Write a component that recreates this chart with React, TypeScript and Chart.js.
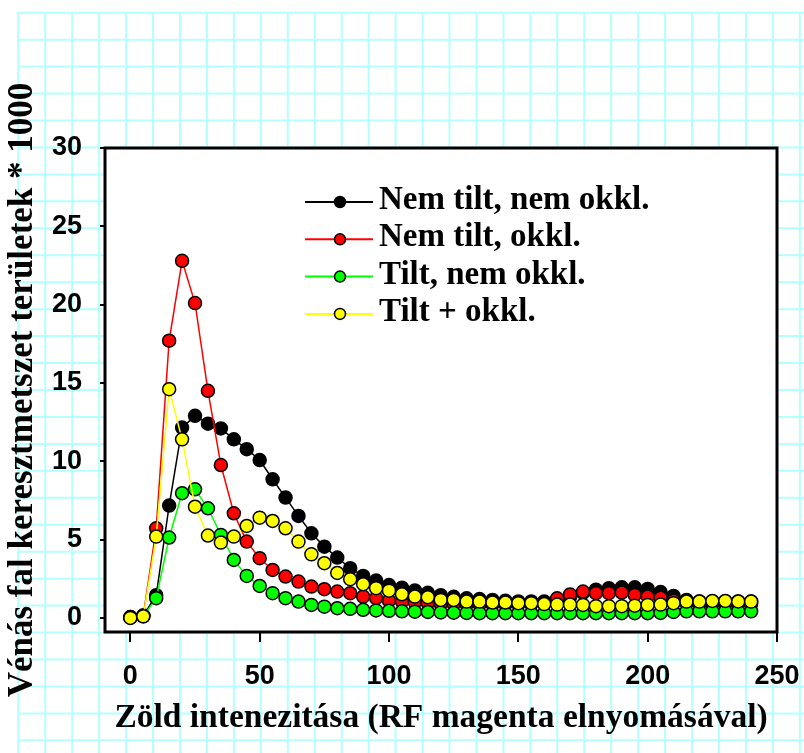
import React, { useEffect, useRef } from 'react';
import { Chart, registerables } from 'chart.js';

Chart.register(...registerables);

const xValues = [0, 5, 10, 15, 20, 25, 30, 35, 40, 45, 50, 55, 60, 65, 70, 75, 80, 85, 90, 95, 100, 105, 110, 115, 120, 125, 130, 135, 140, 145, 150, 155, 160, 165, 170, 175, 180, 185, 190, 195, 200, 205, 210, 215, 220, 225, 230, 235, 240];

const nemTiltNemOkkl = [0.05, 0.15, 1.45, 7.17, 12.15, 12.9, 12.4, 12.1, 11.4, 10.77, 10.08, 8.85, 7.68, 6.51, 5.4, 4.55, 3.85, 3.17, 2.68, 2.38, 2.1, 1.93, 1.75, 1.6, 1.45, 1.35, 1.25, 1.2, 1.15, 1.1, 1.05, 1.05, 1.05, 1.15, 1.35, 1.6, 1.8, 1.9, 1.95, 1.95, 1.85, 1.65, 1.4, 1.15, 1.05, 1.05, 1.05, 1.05, 1.05];

const nemTiltOkkl = [0.05, 0.15, 5.72, 17.7, 22.8, 20.1, 14.5, 9.76, 6.68, 4.87, 3.81, 3.06, 2.64, 2.32, 2.0, 1.83, 1.68, 1.58, 1.36, 1.26, 1.1, 1.04, 0.98, 0.95, 0.9, 0.88, 0.85, 0.85, 0.85, 0.85, 0.85, 0.88, 0.95, 1.25, 1.5, 1.68, 1.58, 1.58, 1.62, 1.47, 1.36, 1.28, 1.1, 0.95, 0.9, 0.9, 0.9, 0.9, 0.9];

const tiltNemOkkl = [0.02, 0.1, 1.26, 5.13, 7.96, 8.21, 7.0, 5.3, 3.7, 2.68, 2.04, 1.58, 1.26, 1.04, 0.83, 0.72, 0.62, 0.58, 0.52, 0.48, 0.45, 0.42, 0.4, 0.38, 0.35, 0.33, 0.32, 0.3, 0.3, 0.3, 0.3, 0.3, 0.3, 0.3, 0.3, 0.3, 0.3, 0.3, 0.3, 0.3, 0.3, 0.32, 0.38, 0.42, 0.42, 0.42, 0.42, 0.42, 0.42];

const tiltOkkl = [0.0, 0.1, 5.19, 14.6, 11.4, 7.1, 5.26, 4.81, 5.19, 5.87, 6.4, 6.19, 5.72, 4.87, 4.06, 3.49, 2.87, 2.47, 2.15, 1.9, 1.74, 1.51, 1.36, 1.32, 1.15, 1.15, 1.04, 1.04, 0.98, 0.98, 0.94, 0.94, 0.88, 0.85, 0.85, 0.83, 0.75, 0.75, 0.75, 0.78, 0.83, 0.85, 0.94, 1.04, 1.04, 1.08, 1.08, 1.05, 1.04];

const seriesLabels = ['Nem tilt, nem okkl.', 'Nem tilt, okkl.', 'Tilt, nem okkl.', 'Tilt + okkl.'];
const seriesColors = ['#000000', '#ff0000', '#00ff00', '#ffff00'];
const seriesValues = [nemTiltNemOkkl, nemTiltOkkl, tiltNemOkkl, tiltOkkl];

const xTickValues = [0, 50, 100, 150, 200, 250];
const yTickValues = [0, 5, 10, 15, 20, 25, 30];

const xTitle = 'Zöld intenezitása (RF magenta elnyomásával)';
const yTitle = 'Vénás fal keresztmetszet területek * 1000';

const paperPlugin = {
  id: 'paper',
  beforeDraw(chart: any) {
    const { ctx, width, height, chartArea } = chart;
    ctx.save();
    ctx.fillStyle = '#ffffff';
    ctx.fillRect(0, 0, width, height);
    ctx.strokeStyle = '#b4ffff';
    ctx.lineWidth = 2;
    for (let x = 18.3; x < width; x += 26.95) {
      ctx.beginPath();
      ctx.moveTo(x, 12);
      ctx.lineTo(x, height);
      ctx.stroke();
    }
    for (let y = 12.7; y < height; y += 26.95) {
      ctx.beginPath();
      ctx.moveTo(18, y);
      ctx.lineTo(width, y);
      ctx.stroke();
    }
    ctx.fillStyle = '#ffffff';
    ctx.fillRect(chartArea.left, chartArea.top, chartArea.right - chartArea.left, chartArea.bottom - chartArea.top);
    ctx.restore();
  },
  beforeDatasetsDraw(chart: any) {
    const { ctx, chartArea } = chart;
    ctx.save();
    ctx.strokeStyle = '#000000';
    ctx.lineWidth = 3;
    ctx.strokeRect(chartArea.left, chartArea.top, chartArea.right - chartArea.left, chartArea.bottom - chartArea.top);
    ctx.restore();
  },
};

const legendPlugin = {
  id: 'insideLegend',
  afterDraw(chart: any) {
    const { ctx, chartArea } = chart;
    const x0 = chartArea.left + 200;
    const y0 = chartArea.top + 54;
    const rowH = 37.3;
    ctx.save();
    chart.data.datasets.forEach((ds: any, i: number) => {
      const y = y0 + i * rowH;
      ctx.strokeStyle = ds.borderColor;
      ctx.lineWidth = 2;
      ctx.beginPath();
      ctx.moveTo(x0, y);
      ctx.lineTo(x0 + 68, y);
      ctx.stroke();
      ctx.beginPath();
      ctx.arc(x0 + 35, y, 5.5, 0, Math.PI * 2);
      ctx.fillStyle = ds.backgroundColor;
      ctx.fill();
      ctx.strokeStyle = '#000000';
      ctx.lineWidth = 1.5;
      ctx.stroke();
      ctx.fillStyle = '#000000';
      ctx.font = 'bold 33px "Liberation Serif"';
      ctx.textAlign = 'left';
      ctx.textBaseline = 'alphabetic';
      ctx.fillText(ds.label, x0 + 74, y + 7);
    });
    ctx.restore();
  },
};

export default function App() {
  const canvasRef = useRef<HTMLCanvasElement | null>(null);

  useEffect(() => {
    const canvas = canvasRef.current;
    if (!canvas) return;
    const datasets = seriesValues.map((vals, i) => ({
      label: seriesLabels[i],
      data: xValues.map((x, j) => ({ x, y: vals[j] })),
      borderColor: seriesColors[i],
      backgroundColor: seriesColors[i],
      pointBackgroundColor: seriesColors[i],
      pointBorderColor: '#000000',
      pointBorderWidth: 1.5,
      pointRadius: 6.5,
      borderWidth: 1.5,
      tension: 0,
      order: 3 - i,
    }));
    const chart = new Chart(canvas, {
      type: 'line',
      data: { datasets },
      plugins: [paperPlugin, legendPlugin],
      options: {
        responsive: false,
        animation: false,
        devicePixelRatio: 1,
        layout: { padding: { left: 0, top: 148, right: 27, bottom: 0 } },
        plugins: { legend: { display: false }, tooltip: { enabled: false } },
        scales: {
          x: {
            type: 'linear',
            min: -9.8,
            max: 250,
            afterBuildTicks: (scale: any) => {
              scale.ticks = xTickValues.map((v) => ({ value: v }));
            },
            afterFit: (scale: any) => {
              scale.height = 121;
              scale.paddingLeft = 0;
              scale.paddingRight = 0;
            },
            border: { display: false },
            grid: { drawOnChartArea: false, drawTicks: true, tickLength: 10, color: '#000000', lineWidth: 2 },
            ticks: {
              color: '#000000',
              padding: 18,
              maxRotation: 0,
              font: { family: '"Liberation Sans"', size: 27, weight: 'bold' },
            },
            title: {
              display: true,
              text: xTitle,
              color: '#000000',
              font: { family: '"Liberation Serif"', size: 33.5, weight: 'bold' },
              padding: { top: 0, bottom: 15 },
            },
          },
          y: {
            type: 'linear',
            min: -0.9,
            max: 30,
            afterBuildTicks: (scale: any) => {
              scale.ticks = yTickValues.map((v) => ({ value: v }));
            },
            afterFit: (scale: any) => {
              scale.width = 105;
              scale.paddingTop = 0;
              scale.paddingBottom = 0;
            },
            border: { display: false },
            grid: { drawOnChartArea: false, drawTicks: true, tickLength: 5, color: '#000000', lineWidth: 2 },
            ticks: {
              color: '#000000',
              padding: 18,
              font: { family: '"Liberation Sans"', size: 27, weight: 'bold' },
            },
            title: {
              display: true,
              text: yTitle,
              color: '#000000',
              font: { family: '"Liberation Serif"', size: 35, weight: 'bold' },
              padding: { top: 2, bottom: 0 },
            },
          },
        },
      },
    } as any);
    return () => chart.destroy();
  }, []);

  return (
    <div style={{ position: 'absolute', left: 0, top: 0, width: 804, height: 753 }}>
      <canvas ref={canvasRef} width={804} height={753} style={{ display: 'block', width: 804, height: 753 }} />
    </div>
  );
}
